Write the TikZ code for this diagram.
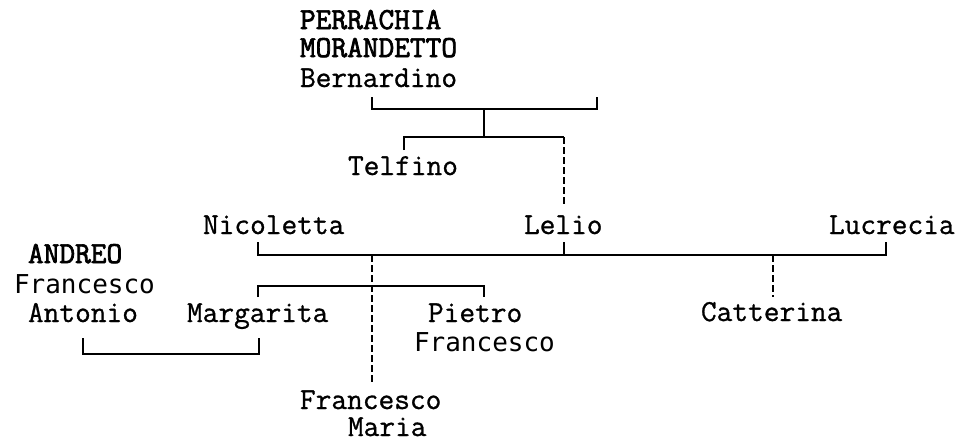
\documentclass[tikz,border=0pt]{standalone}
\usepackage{fontspec}
\newfontfamily\serifmono{Latin Modern Mono}[FakeBold=0.9]
\newfontfamily\serifmonob{Latin Modern Mono}[FakeBold=2.4]
\newfontfamily\sansmono{DejaVu Sans Mono}
\begin{document}
\begin{tikzpicture}[x=1pt,y=1pt,
  nm/.style={anchor=base west,inner sep=0pt,outer sep=0pt,font=\serifmono\fontsize{30.5}{32}\selectfont},
  nmb/.style={nm,font=\serifmonob\fontsize{30.5}{32}\selectfont},
  sn/.style={anchor=base west,inner sep=0pt,outer sep=0pt,font=\sansmono\fontsize{26}{30}\selectfont},
  ln/.style={line width=1.4pt},
  dl/.style={line width=1.4pt,dash pattern=on 7pt off 3pt}]
\useasboundingbox (0,0) rectangle (960,-440);
% names
\node[nmb] (perr) at (300,-29) {PERRACHIA};
\node[nmb] (mor) at (300,-57) {MORANDETTO};
\node[nm] (bern) at (300,-87) {Bernardino};
\node[nm] (telf) at (348,-175) {Telfino};
\node[nm] (nico) at (203,-234) {Nicoletta};
\node[nm] (lelio) at (524,-234) {Lelio};
\node[nm] (lucr) at (829,-234) {Lucrecia};
\node[nmb] (andr) at (28,-263) {ANDREO};
\node[sn] (fra1) at (14,-293) {Francesco};
\node[nm] (anto) at (28,-322) {Antonio};
\node[nm] (marg) at (187,-322) {Margarita};
\node[nm] (piet) at (428,-322) {Pietro};
\node[sn] (fra2) at (414,-351) {Francesco};
\node[nm] (catt) at (701,-321) {Catterina};
\node[nm] (fram) at (300,-409) {Francesco};
\node[nm] (mari) at (348,-436) {Maria};
% junction coordinates
\coordinate (bL) at (372,-97);
\coordinate (bR) at (597,-97);
\coordinate (bM) at (484,-109);
\coordinate (tJ) at (484,-137);
\coordinate (tL) at (404,-150);
\coordinate (tR) at (564,-137);
\coordinate (lelTop) at (564,-207);
\coordinate (nT) at (258,-242);
\coordinate (leT) at (564,-242);
\coordinate (luT) at (886,-242);
\coordinate (mainY) at (0,-255);
\coordinate (fmD) at (372,-255);
\coordinate (fmB) at (372,-383);
\coordinate (caD) at (773,-255);
\coordinate (caB) at (773,-297);
\coordinate (mgL) at (258,-297);
\coordinate (mgR) at (484,-297);
\coordinate (mgY) at (0,-286);
\coordinate (anL) at (83,-338);
\coordinate (anR) at (259,-338);
\coordinate (anY) at (0,-354);
% Bernardino marriage
\draw[ln] (bL) |- (bM) -| (bR);
\draw[ln] (bM) -- (tJ);
\draw[ln] (tL) |- (tR);
\draw[dl] (tR) -- (lelTop);
% main marriage line
\draw[ln] (nT) |- (mainY -| luT) -- (luT);
\draw[ln] (leT) -- (mainY -| leT);
\draw[dl] (fmD |- mainY) -- (fmB);
\draw[dl] (caD) -- (caB);
% Margarita line
\draw[ln] (mgL) |- (mgY -| mgR) -- (mgR);
% Antonio - Margarita
\draw[ln] (anL) |- (anY -| anR) -- (anR);
\end{tikzpicture}
\end{document}
